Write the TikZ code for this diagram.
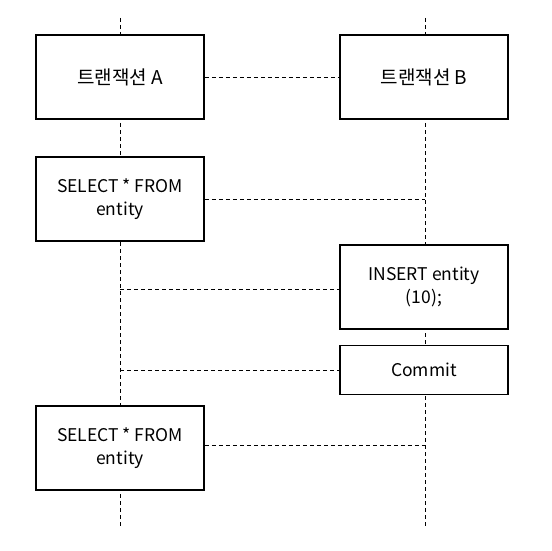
\documentclass[tikz,border=0pt]{standalone}
\usepackage{fontspec}
\setmainfont{Noto Sans CJK KR}
\begin{document}
\begin{tikzpicture}[x=1pt,y=-1pt,
  box/.style={draw,fill=white,line width=1.6pt,minimum width=168pt,inner sep=0pt,align=center,font=\fontsize{17.5}{22.5}\selectfont},
  life/.style={line width=0.8pt,dash pattern=on 4pt off 3pt},
  msg/.style={line width=0.8pt,dash pattern=on 4pt off 3pt}]
\useasboundingbox (0,0) rectangle (552,551);
% lifelines
\coordinate (Atop) at (120,18);
\coordinate (Abot) at (120,528);
\coordinate (Btop) at (425,18);
\coordinate (Bbot) at (425,528);
\draw[life] (Atop) -- (Abot);
\draw[life] (Btop) -- (Bbot);
% boxes
\node[box,minimum height=84pt,font=\fontsize{19}{23}\selectfont] (ta) at (120,77) {트랜잭션 A};
\node[box,minimum height=84pt,font=\fontsize{19}{23}\selectfont] (tb) at (424,77) {트랜잭션 B};
\node[box,minimum height=84pt] (s1) at (120,199) {SELECT * FROM\\entity};
\node[box,minimum height=84pt] (ins) at (424,287) {INSERT entity\\(10);};
\node[box,minimum height=49pt] (cm) at (424,370) {Commit};
\node[box,minimum height=84pt] (s2) at (120,448) {SELECT * FROM\\entity};
% coordinates on lifelines
\coordinate (b1) at (425,199);
\coordinate (a2) at (120,289);
\coordinate (a3) at (120,370);
\coordinate (b4) at (425,445);
% messages
\draw[msg] (ta.east) -- (tb.west);
\draw[msg] (s1.east) -- (b1);
\draw[msg] (a2) -- (a2 -| ins.west);
\draw[msg] (a3) -- (cm.west);
\draw[msg] (s2.east |- b4) -- (b4);
\end{tikzpicture}
\end{document}
